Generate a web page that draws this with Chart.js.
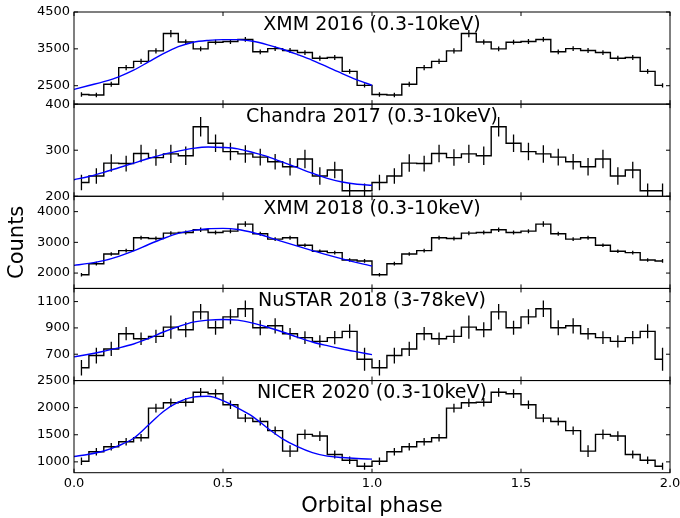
<!DOCTYPE html>
<html lang="pt-BR">
<head>
<meta charset="UTF-8">
<title>Curvas de luz por fase orbital</title>
<script src="https://cdn.jsdelivr.net/npm/chart.js@4.4.1/dist/chart.umd.min.js"></script>
<style>
  html, body { margin: 0; padding: 0; background: #fff; }
</style>
</head>
<body>
<canvas id="grafico" width="680" height="518"></canvas>
<script>
// Centros dos bins de fase (dois ciclos, 0.05 de largura)
const fases = [
  0.025, 0.075, 0.125, 0.175, 0.225, 0.275, 0.325, 0.375, 0.425, 0.475,
  0.525, 0.575, 0.625, 0.675, 0.725, 0.775, 0.825, 0.875, 0.925, 0.975,
  1.025, 1.075, 1.125, 1.175, 1.225, 1.275, 1.325, 1.375, 1.425, 1.475,
  1.525, 1.575, 1.625, 1.675, 1.725, 1.775, 1.825, 1.875, 1.925, 1.975
];
// Fases onde o modelo (curva azul) foi lido
const fasesModelo = [0, 0.05, 0.1, 0.15, 0.2, 0.25, 0.3, 0.35, 0.4, 0.45, 0.5,
  0.55, 0.6, 0.65, 0.7, 0.75, 0.8, 0.85, 0.9, 0.95, 1.0];
const ticksFase = [0, 0.5, 1, 1.5, 2];

// XMM 2016
const contagensXmm2016 = [2260, 2250, 2540, 2990, 3160, 3445, 3915, 3685, 3500, 3680,
  3700, 3755, 3420, 3505, 3455, 3400, 3245, 3265, 2890, 2510];
const errosXmm2016 = [60, 60, 65, 70, 70, 70, 100, 70, 65, 65, 65, 65, 65, 65, 65, 65, 65, 65, 65, 60];
const modeloXmm2016 = [2400, 2505, 2610, 2740, 2920, 3145, 3370, 3560, 3680, 3730, 3750,
  3750, 3705, 3610, 3490, 3345, 3190, 3010, 2830, 2660, 2510];
const ticksXmm2016 = [2500, 3500, 4500];

// Chandra 2017
const contagensChandra2017 = [230, 244, 272, 271, 293, 284, 292, 288, 351, 315,
  297, 292, 285, 275, 264, 281, 244, 257, 212, 212];
const errosChandra2017 = [17, 17, 19, 17, 19, 18, 20, 20, 21, 19, 19, 19, 18, 17, 19, 20, 19, 18, 16, 16];
const modeloChandra2017 = [236, 243, 252, 262, 272, 282, 291, 298, 304, 307, 306,
  303, 295, 286, 274, 262, 250, 239, 231, 226, 224];
const ticksChandra2017 = [200, 300, 400];

// XMM 2018
const contagensXmm2018 = [1945, 2305, 2620, 2730, 3150, 3125, 3300, 3320, 3410, 3320,
  3365, 3595, 3280, 3105, 3150, 2905, 2710, 2665, 2425, 2395];
const errosXmm2018 = [55, 60, 60, 60, 65, 65, 65, 65, 70, 65, 65, 90, 65, 65, 65, 60, 60, 60, 60, 60];
const modeloXmm2018 = [2250, 2315, 2405, 2545, 2720, 2930, 3125, 3290, 3390, 3445, 3455,
  3420, 3320, 3180, 3025, 2875, 2730, 2590, 2460, 2340, 2230];
const ticksXmm2018 = [2000, 3000, 4000];

// NuSTAR 2018
const contagensNustar2018 = [597, 690, 740, 856, 818, 836, 906, 886, 1022, 901,
  984, 1045, 901, 916, 856, 826, 798, 826, 874, 662];
const errosNustar2018 = [59, 60, 54, 50, 48, 50, 88, 57, 59, 53, 57, 63, 57, 58, 44, 48, 47, 50, 53, 88];
const modeloNustar2018 = [680, 700, 723, 748, 778, 820, 869, 910, 944, 959, 964,
  959, 936, 905, 869, 830, 793, 765, 740, 718, 697];
const ticksNustar2018 = [700, 900, 1100];

// NICER 2020
const contagensNicer2020 = [1012, 1186, 1279, 1372, 1446, 1992, 2090, 2100, 2283, 2258,
  2054, 1806, 1744, 1577, 1198, 1508, 1477, 1136, 1031, 920];
const errosNicer2020 = [70, 70, 70, 70, 70, 80, 80, 80, 80, 80, 80, 75, 75, 75, 110, 90, 90, 75, 70, 65];
const modeloNicer2020 = [1100, 1140, 1200, 1300, 1435, 1680, 1930, 2100, 2195, 2210, 2130,
  1990, 1835, 1620, 1425, 1280, 1170, 1105, 1080, 1062, 1050];
const ticksNicer2020 = [1000, 1500, 2000, 2500];

// O segundo ciclo repete o primeiro (curva dobrada em fase)
const doisCiclos = valores => valores.concat(valores);

const paineis = [
  { titulo: 'XMM 2016 (0.3-10keV)', contagens: contagensXmm2016, erros: errosXmm2016, modelo: modeloXmm2016, ticks: ticksXmm2016, min: 2000, max: 4500 },
  { titulo: 'Chandra 2017 (0.3-10keV)', contagens: contagensChandra2017, erros: errosChandra2017, modelo: modeloChandra2017, ticks: ticksChandra2017, min: 200, max: 400 },
  { titulo: 'XMM 2018 (0.3-10keV)', contagens: contagensXmm2018, erros: errosXmm2018, modelo: modeloXmm2018, ticks: ticksXmm2018, min: 1500, max: 4500 },
  { titulo: 'NuSTAR 2018 (3-78keV)', contagens: contagensNustar2018, erros: errosNustar2018, modelo: modeloNustar2018, ticks: ticksNustar2018, min: 500, max: 1200 },
  { titulo: 'NICER 2020 (0.3-10keV)', contagens: contagensNicer2020, erros: errosNicer2020, modelo: modeloNicer2020, ticks: ticksNicer2020, min: 800, max: 2500 }
];

Chart.defaults.font.family = '"DejaVu Sans", sans-serif';
Chart.defaults.color = '#000';

const fonteTicks = { family: '"DejaVu Sans", sans-serif', size: 13 };
const fonteRotulo = { family: '"DejaVu Sans", sans-serif', size: 21 };

// Montando datasets e escalas de cada painel
const datasets = [];
const escalas = {
  x: {
    type: 'linear',
    min: 0,
    max: 2,
    offset: false,
    afterBuildTicks: eixo => { eixo.ticks = ticksFase.map(v => ({ value: v })); },
    ticks: { callback: v => v.toFixed(1), font: fonteTicks, color: '#000', padding: 3.5, maxRotation: 0, autoSkip: false },
    grid: { display: false, drawTicks: false },
    border: { display: false },
    title: { display: true, text: 'Orbital phase', font: fonteRotulo, color: '#000', padding: { top: 0, bottom: -1 } },
    afterFit: eixo => {
      eixo.height = 45.3;
      // o rótulo "2.0" pode sair um pouco da área, como no original
      eixo.paddingLeft = 0;
      eixo.paddingRight = 0;
    }
  }
};

paineis.forEach((p, i) => {
  const id = 'y' + i;
  const valores = doisCiclos(p.contagens);
  const erros = doisCiclos(p.erros);

  // Histograma em degraus
  datasets.push({
    type: 'line',
    yAxisID: id,
    data: fases.map((f, j) => ({ x: f, y: valores[j] })),
    stepped: 'middle',
    borderColor: '#000',
    borderWidth: 1.4,
    pointRadius: 0,
    fill: false,
    order: 2
  });

  // Barras de erro (barras flutuantes finas)
  datasets.push({
    type: 'bar',
    yAxisID: id,
    data: fases.map((f, j) => ({ x: f, y: [valores[j] - erros[j], valores[j] + erros[j]] })),
    backgroundColor: '#000',
    borderWidth: 0,
    grouped: false,
    maxBarThickness: 1.3,
    order: 3
  });

  // Modelo ajustado (só o primeiro ciclo)
  datasets.push({
    type: 'line',
    yAxisID: id,
    data: fasesModelo.map((f, j) => ({ x: f, y: p.modelo[j] })),
    borderColor: '#0000ff',
    borderWidth: 1.4,
    pointRadius: 0,
    cubicInterpolationMode: 'monotone',
    fill: false,
    order: 1
  });

  escalas[id] = {
    type: 'linear',
    position: 'left',
    stack: 'paineis',
    stackWeight: 1,
    weight: paineis.length - i,
    min: p.min,
    max: p.max,
    beginAtZero: false,
    afterBuildTicks: eixo => { eixo.ticks = p.ticks.map(v => ({ value: v })); },
    ticks: { callback: v => String(v), font: fonteTicks, color: '#000', padding: 4, autoSkip: false },
    grid: { display: false, drawTicks: false },
    border: { display: false },
    title: {
      display: i === 2,
      text: 'Counts',
      font: fonteRotulo,
      color: '#000',
      padding: { top: 5, bottom: 0 }
    },
    afterFit: eixo => { eixo.width = 74; }
  };
});

// Molduras, ticks internos e títulos de cada painel
const molduras = {
  id: 'molduras',
  afterDatasetsDraw(chart) {
    const { ctx, chartArea, scales } = chart;
    const esq = chartArea.left;
    const dir = chartArea.right;
    ctx.save();
    ctx.strokeStyle = '#000';
    ctx.lineWidth = 1;
    paineis.forEach((p, i) => {
      const y = scales['y' + i];
      ctx.strokeRect(esq, y.top, dir - esq, y.bottom - y.top);
      ctx.beginPath();
      p.ticks.forEach(v => {
        const py = y.getPixelForValue(v);
        ctx.moveTo(esq, py); ctx.lineTo(esq + 4, py);
        ctx.moveTo(dir, py); ctx.lineTo(dir - 4, py);
      });
      ticksFase.forEach(v => {
        const px = scales.x.getPixelForValue(v);
        ctx.moveTo(px, y.top); ctx.lineTo(px, y.top + 4);
        ctx.moveTo(px, y.bottom); ctx.lineTo(px, y.bottom - 4);
      });
      ctx.stroke();

      ctx.fillStyle = '#000';
      ctx.font = '19px "DejaVu Sans"';
      ctx.textAlign = 'center';
      ctx.textBaseline = 'alphabetic';
      ctx.fillText(p.titulo, (esq + dir) / 2, y.top + 17.5);
    });
    ctx.restore();
  }
};

const ctx = document.getElementById('grafico').getContext('2d');
const chart = new Chart(ctx, {
  type: 'line',
  data: { datasets: datasets },
  options: {
    responsive: false,
    animation: false,
    devicePixelRatio: 1,
    layout: { padding: { top: 12, right: 10, bottom: 0, left: 0 } },
    plugins: { legend: { display: false }, tooltip: { enabled: false } },
    scales: escalas
  },
  plugins: [molduras]
});
</script>
</body>
</html>
